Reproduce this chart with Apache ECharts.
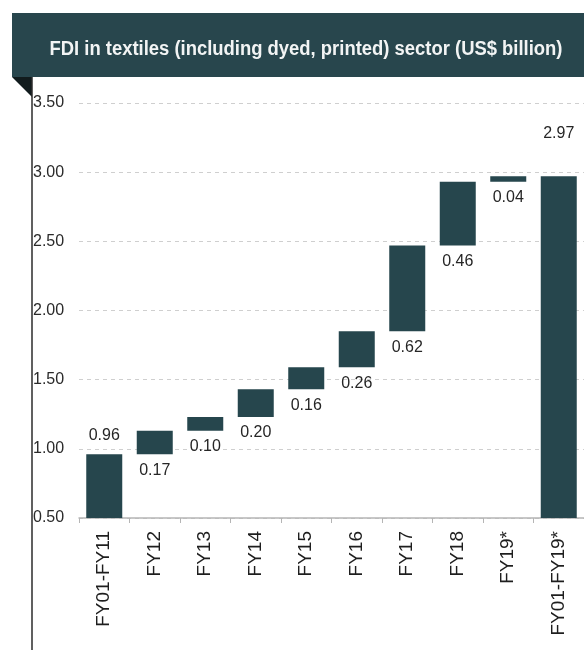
<!DOCTYPE html>
<html>
<head>
<meta charset="utf-8">
<script src="https://cdn.jsdelivr.net/npm/echarts@6/dist/echarts.min.js"></script>
<style>
  html, body { margin: 0; padding: 0; background: #fff; }
  #chart { width: 584px; height: 650px; }
</style>
</head>
<body>
<div id="chart"></div>
<script>
const titleText = 'FDI in textiles (including dyed, printed) sector (US$ billion)'
const categories = ['FY01-FY11', 'FY12', 'FY13', 'FY14', 'FY15', 'FY16', 'FY17', 'FY18', 'FY19*', 'FY01-FY19*']
const increments = [0.96, 0.17, 0.10, 0.20, 0.16, 0.26, 0.62, 0.46, 0.04]
const totalValue = 2.97
const yMin = 0.5
const yMax = 3.5
const yStep = 0.5

const barColor = '#26464d'
const font = "'Liberation Sans', Arial, sans-serif"
const titleFont = "bold 20px 'Liberation Sans', Arial, sans-serif"

// waterfall: invisible base + visible step
const base = []
const steps = []
let running = 0
increments.forEach((v, i) => {
  base.push(i === 0 ? 0 : running)
  running = +(running + v).toFixed(2)
  steps.push({
    value: v,
    label: i === 0 ? {position: 'top', distance: 11} : {position: 'bottom', distance: 8}
  })
})
base.push(0)
steps.push({value: totalValue, label: {position: 'top', distance: 35}})

// the title in the picture is a condensed face, squeeze a normal one to the same width
const ctx = document.createElement('canvas').getContext('2d')
ctx.font = titleFont
const titleScale = 513 / ctx.measureText(titleText).width

const chart = echarts.init(document.getElementById('chart'))

const option = {
  animation: false,
  textStyle: {fontFamily: font},
  graphic: [
    {type: 'rect', shape: {x: 12, y: 13, width: 572, height: 64}, style: {fill: '#28464d'}},
    {type: 'polygon', shape: {points: [[12, 77], [32, 77], [32, 97]]}, style: {fill: '#111b1d'}},
    {type: 'line', shape: {x1: 32, y1: 77, x2: 32, y2: 650}, style: {stroke: '#2b2b2b', lineWidth: 1.5}},
    {
      type: 'text', x: 306, y: 49, scaleX: titleScale,
      style: {
        text: titleText, fill: '#f2f4f4',
        font: titleFont,
        align: 'center', verticalAlign: 'middle',
        textAlign: 'center', textVerticalAlign: 'middle'
      }
    }
  ],
  grid: {left: 79, top: 103, width: 518, height: 415},
  xAxis: {
    type: 'category',
    data: categories,
    axisLine: {lineStyle: {color: '#b5b5b5', width: 1.5}},
    axisTick: {show: true, length: 5, lineStyle: {color: '#b5b5b5'}},
    axisLabel: {rotate: 90, margin: 13, fontSize: 19, color: '#1e1e1e', fontFamily: font}
  },
  yAxis: {
    type: 'value',
    min: yMin,
    max: yMax,
    interval: yStep,
    axisLine: {show: false},
    axisTick: {show: false},
    axisLabel: {
      align: 'left', margin: 46, fontSize: 16, color: '#2a2a2a', fontFamily: font,
      formatter: v => v.toFixed(2)
    },
    splitLine: {lineStyle: {color: '#cfcfcf', type: [4, 4], width: 1}}
  },
  series: [
    {
      name: 'base',
      type: 'bar',
      stack: 'fdi',
      silent: true,
      barWidth: 36,
      itemStyle: {color: 'transparent'},
      data: base
    },
    {
      name: 'FDI',
      type: 'bar',
      stack: 'fdi',
      clip: true,
      barWidth: 36,
      itemStyle: {color: barColor},
      label: {
        show: true,
        fontSize: 16,
        color: '#262626',
        fontFamily: font,
        formatter: p => p.value.toFixed(2)
      },
      data: steps
    }
  ]
}

chart.setOption(option)
</script>
</body>
</html>
